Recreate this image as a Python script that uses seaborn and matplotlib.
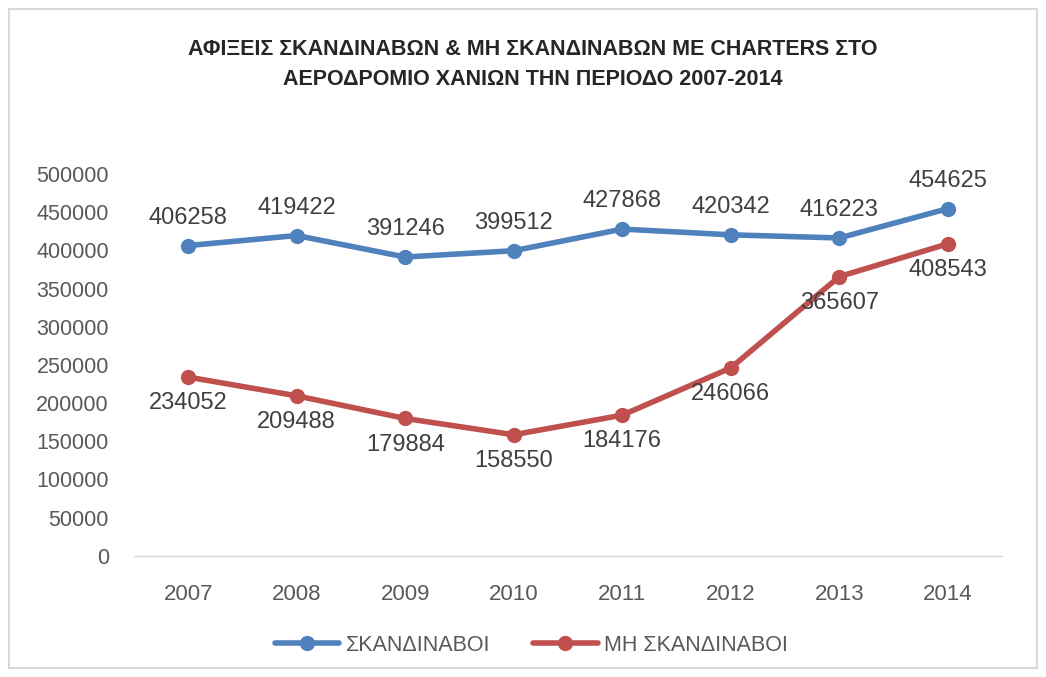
import numpy as np
import pandas as pd
import matplotlib.pyplot as plt
import seaborn as sns
from matplotlib.patches import Rectangle

# -----------------------------------------------------------------------------
# Data
# -----------------------------------------------------------------------------

years = ["2007", "2008", "2009", "2010", "2011", "2012", "2013", "2014"]
scand = [406258, 419422, 391246, 399512, 427868, 420342, 416223, 454625]
non_scand = [234052, 209488, 179884, 158550, 184176, 246066, 365607, 408543]
series_names = ["ΣΚΑΝΔΙΝΑΒΟΙ", "ΜΗ ΣΚΑΝΔΙΝΑΒΟΙ"]
title = "ΑΦΙΞΕΙΣ ΣΚΑΝΔΙΝΑΒΩΝ & ΜΗ ΣΚΑΝΔΙΝΑΒΩΝ ΜΕ CHARTERS ΣΤΟ\nΑΕΡΟΔΡΟΜΙΟ ΧΑΝΙΩΝ ΤΗΝ ΠΕΡΙΟΔΟ 2007-2014"

df = pd.DataFrame({
    "year": years * 2,
    "value": scand + non_scand,
    "series": [series_names[0]] * len(years) + [series_names[1]] * len(years),
})

# -----------------------------------------------------------------------------
# Plot
# -----------------------------------------------------------------------------

sns.set_theme(style="white")
plt.rcParams["font.family"] = ["Liberation Sans Narrow", "Liberation Sans", "DejaVu Sans"]

colors = {series_names[0]: "#4f81bd", series_names[1]: "#c0504d"}

fig = plt.figure(figsize=(10.46, 6.77), dpi=100)
ax = fig.add_axes([0.128, 0.179, 0.830, 0.564])

sns.lineplot(data=df, x="year", y="value", hue="series", palette=colors,
             marker="o", markersize=11, markeredgewidth=0, linewidth=4,
             sort=False, ax=ax)

ax.set_ylim(0, 500000)
ax.set_xlim(-0.5, len(years) - 0.5)
ax.set_yticks(np.arange(0, 500001, 50000))
ax.set_xlabel("")
ax.set_ylabel("")
ax.tick_params(axis="both", length=0, labelsize=16, labelcolor="#595959")
ax.tick_params(axis="x", pad=20)
ax.tick_params(axis="y", labelsize=15.5, pad=18)
for side in ["top", "right", "left"]:
    ax.spines[side].set_visible(False)
ax.spines["bottom"].set_color("#d9d9d9")
ax.spines["bottom"].set_linewidth(1)

# data labels
for i, v in enumerate(scand):
    ax.annotate(str(v), (i, v), xytext=(0, 12), textcoords="offset points",
                ha="center", va="bottom", fontsize=17, color="#404040")
for i, v in enumerate(non_scand):
    ax.annotate(str(v), (i, v), xytext=(0, -11), textcoords="offset points",
                ha="center", va="top", fontsize=17, color="#404040")

# legend at the bottom
sns.move_legend(ax, "center", bbox_to_anchor=(0.508, 0.047),
                bbox_transform=fig.transFigure, ncol=2, frameon=False,
                title=None, fontsize=15.5, handlelength=3, columnspacing=2.0,
                handletextpad=0.3)
for t in ax.get_legend().get_texts():
    t.set_color("#595959")

fig.text(0.509, 0.905, title, ha="center", va="center", fontsize=15.5,
         fontweight="bold", color="#262626", linespacing=1.6)

# outer frame
fig.patches.append(Rectangle((9 / 1046, 9 / 677), 1028 / 1046, 659 / 677,
                             transform=fig.transFigure, fill=False,
                             edgecolor="#d9d9d9", linewidth=1.5))

plt.savefig("out.png", dpi=100)
plt.close()
